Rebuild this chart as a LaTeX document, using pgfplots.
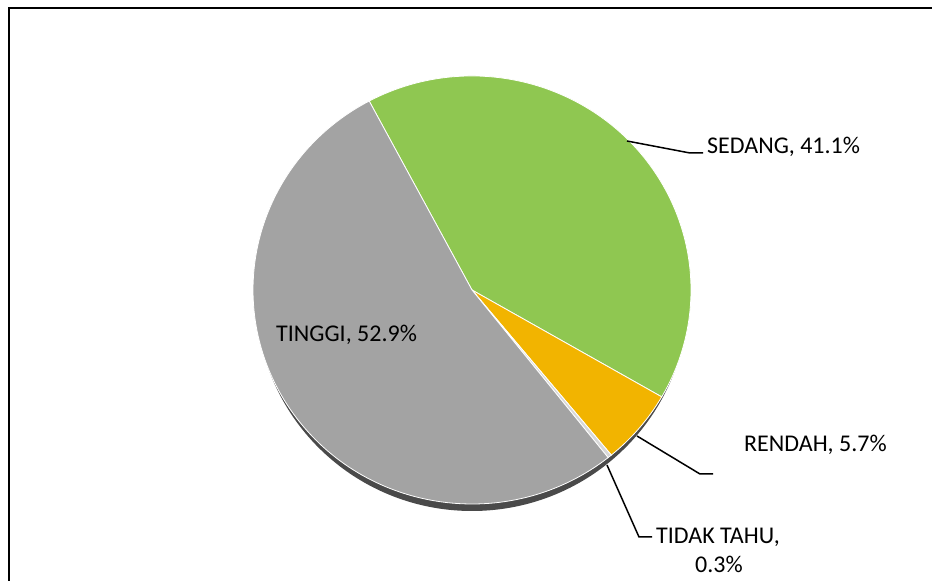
\documentclass[border=0pt]{standalone}
\usepackage{pgfplots}
\usepackage{pgfplotstable}
\pgfplotsset{compat=1.18}
\usepackage{fontspec}
\setmainfont{Carlito}
\definecolor{cSedang}{HTML}{8FC751}
\definecolor{cRendah}{HTML}{F2B400}
\definecolor{cTidak}{HTML}{D8D8D8}
\definecolor{cTinggi}{HTML}{A3A3A3}
\definecolor{cShadow}{HTML}{4A4A4A}

\pgfplotstableread{
label value
SEDANG 41.1
RENDAH 5.7
TIDAK 0.3
TINGGI 52.9
}\piedata
\pgfplotstablegetelem{0}{value}\of\piedata\pgfmathsetmacro\vA{\pgfplotsretval}%
\pgfplotstablegetelem{1}{value}\of\piedata\pgfmathsetmacro\vB{\pgfplotsretval}%
\pgfplotstablegetelem{2}{value}\of\piedata\pgfmathsetmacro\vC{\pgfplotsretval}%
\pgfplotstablegetelem{3}{value}\of\piedata\pgfmathsetmacro\vD{\pgfplotsretval}%
\pgfmathsetmacro\aO{118}%
\pgfmathsetmacro\aA{\aO-3.6*\vA}%
\pgfmathsetmacro\aB{\aA-3.6*\vB}%
\pgfmathsetmacro\aC{\aB-3.6*\vC}%
\pgfmathsetmacro\aD{\aC-3.6*\vD}%
\def\cx{472}\def\cy{291}\def\rx{219}\def\ry{214}%

\begin{document}%
\begin{tikzpicture}
\begin{axis}[x=1pt, y=1pt, xmin=0, xmax=932, ymin=0, ymax=581,
  hide axis, clip=true, anchor=origin, at={(0,0)}]
% full picture extent
\path (axis cs:0,0) rectangle (axis cs:932,581);
% frame (top and left edges visible)
\draw[line width=2pt, black] (axis cs:9,0) -- (axis cs:9,573) -- (axis cs:932,573);
% shadow
\fill[cShadow] (axis cs:472,284) ellipse [x radius=216pt, y radius=\ry pt];
% slices
\fill[cSedang, draw=white, line width=0.8pt] (axis cs:\cx,\cy) -- (axis cs:{\cx+\rx*cos(\aO)},{\cy+\ry*sin(\aO)}) arc[start angle=\aO, end angle=\aA, x radius=\rx pt, y radius=\ry pt] -- cycle;
\fill[cRendah, draw=white, line width=0.8pt] (axis cs:\cx,\cy) -- (axis cs:{\cx+\rx*cos(\aA)},{\cy+\ry*sin(\aA)}) arc[start angle=\aA, end angle=\aB, x radius=\rx pt, y radius=\ry pt] -- cycle;
\fill[cTidak, draw=white, line width=0.8pt] (axis cs:\cx,\cy) -- (axis cs:{\cx+\rx*cos(\aB)},{\cy+\ry*sin(\aB)}) arc[start angle=\aB, end angle=\aC, x radius=\rx pt, y radius=\ry pt] -- cycle;
\fill[cTinggi, draw=white, line width=0.8pt] (axis cs:\cx,\cy) -- (axis cs:{\cx+\rx*cos(\aC)},{\cy+\ry*sin(\aC)}) arc[start angle=\aC, end angle=\aD, x radius=\rx pt, y radius=\ry pt] -- cycle;
% leader lines
\draw[line width=1.5pt] (axis cs:627,440) -- (axis cs:690,428) -- (axis cs:703,428);
\draw[line width=1.5pt] (axis cs:637,145) -- (axis cs:700,107) -- (axis cs:713,107);
\draw[line width=1.5pt] (axis cs:607,116) -- (axis cs:639,44) -- (axis cs:652,44);
% labels
\node[anchor=base west, inner sep=0pt, font=\fontsize{24}{29}\selectfont] at (axis cs:707,427) {SEDANG, 41.1\%};
\node[anchor=base west, inner sep=0pt, font=\fontsize{24}{29}\selectfont] at (axis cs:744,129) {RENDAH, 5.7\%};
\node[anchor=base west, inner sep=0pt, font=\fontsize{24}{29}\selectfont] at (axis cs:656,37) {TIDAK TAHU,};
\node[anchor=base west, inner sep=0pt, font=\fontsize{24}{29}\selectfont] at (axis cs:695,8) {0.3\%};
\node[anchor=base west, inner sep=0pt, font=\fontsize{24}{29}\selectfont] at (axis cs:276,239) {TINGGI, 52.9\%};
\end{axis}
\end{tikzpicture}%
\end{document}
